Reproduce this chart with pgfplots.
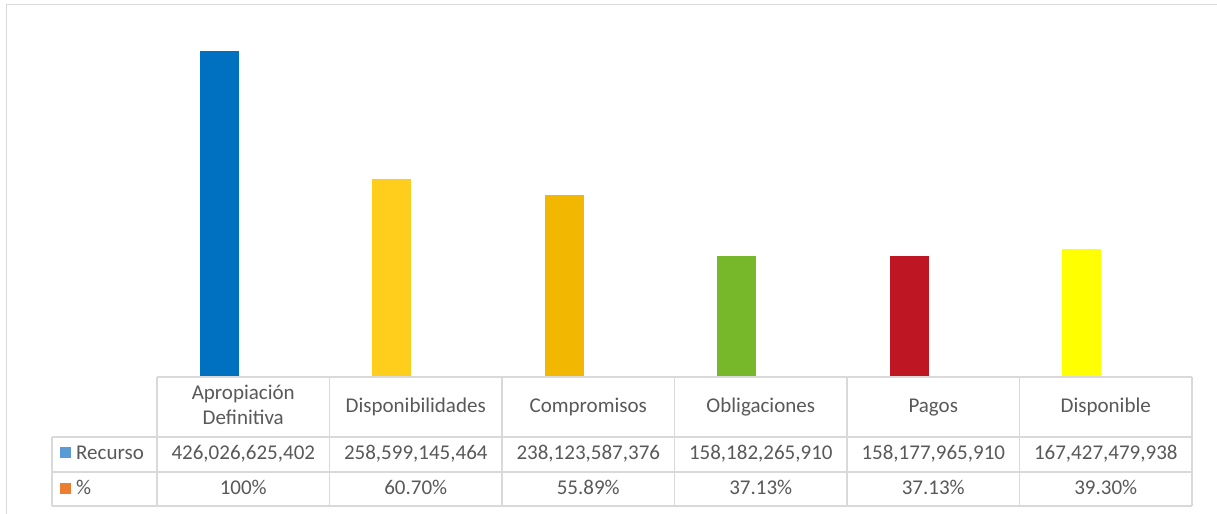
\documentclass[border=0pt]{standalone}
\usepackage{pgfplots}
\pgfplotsset{compat=1.18}
\usepackage{fontspec}
\setmainfont{Carlito}
\definecolor{cA}{HTML}{0070C0}
\definecolor{cB}{HTML}{FFCD1C}
\definecolor{cC}{HTML}{F2B700}
\definecolor{cD}{HTML}{76B82A}
\definecolor{cE}{HTML}{BE1622}
\definecolor{cF}{HTML}{FFFF00}
\definecolor{gridc}{HTML}{D9D9D9}
\definecolor{tc}{HTML}{595959}
\definecolor{legA}{HTML}{5B9BD5}
\definecolor{legB}{HTML}{ED7D31}
\begin{document}
\begin{tikzpicture}[x=1bp,y=1bp]
\path[use as bounding box] (0,0) rectangle (1217,514);
\fill[white] (0,0) rectangle (1217,514);
\draw[gridc, line width=1.5bp] (6.5,-5) -- (6.5,509.5) -- (1225,509.5);
\begin{axis}[at={(157bp,137bp)}, anchor=south west, scale only axis,
  width=1035bp, height=344bp, xmin=0, xmax=6, ymin=0, ymax=450,
  hide axis, clip=false,
  mybar/.style={ybar, bar width=39bp, bar shift=-24bp, fill=#1, draw=none}]
\addplot[mybar=cA] coordinates {(0.5,426.026625402)};
\addplot[mybar=cB] coordinates {(1.5,258.599145464)};
\addplot[mybar=cC] coordinates {(2.5,238.123587376)};
\addplot[mybar=cD] coordinates {(3.5,158.182265910)};
\addplot[mybar=cE] coordinates {(4.5,158.177965910)};
\addplot[mybar=cF] coordinates {(5.5,167.427479938)};
\end{axis}
% table grid
\begin{scope}[gridc, line width=1.3bp]
\draw (157,137) -- (1192,137);
\draw (52,77) -- (1192,77);
\draw (52,42) -- (1192,42);
\draw (52,8) -- (1192,8);
\draw (52,77) -- (52,8);
\foreach \x in {157,329.5,502,674.5,847,1019.5,1192} {\draw (\x,137) -- (\x,8);}
\end{scope}
\begin{scope}[every node/.style={text=tc, font=\fontsize{21bp}{25bp}\selectfont, inner sep=0pt}]
\node[anchor=base] at (243.25,114) {Apropiación};
\node[anchor=base] at (243.25,89) {Definitiva};
\node[anchor=base] at (415.75,101) {Disponibilidades};
\node[anchor=base] at (588.25,101) {Compromisos};
\node[anchor=base] at (760.75,101) {Obligaciones};
\node[anchor=base] at (933.25,101) {Pagos};
\node[anchor=base] at (1105.75,101) {Disponible};
\node[anchor=base] at (243.25,54) {426,026,625,402};
\node[anchor=base] at (415.75,54) {258,599,145,464};
\node[anchor=base] at (588.25,54) {238,123,587,376};
\node[anchor=base] at (760.75,54) {158,182,265,910};
\node[anchor=base] at (933.25,54) {158,177,965,910};
\node[anchor=base] at (1105.75,54) {167,427,479,938};
\node[anchor=base] at (243.25,19) {100\%};
\node[anchor=base] at (415.75,19) {60.70\%};
\node[anchor=base] at (588.25,19) {55.89\%};
\node[anchor=base] at (760.75,19) {37.13\%};
\node[anchor=base] at (933.25,19) {37.13\%};
\node[anchor=base] at (1105.75,19) {39.30\%};
\node[anchor=base west] at (76,54) {Recurso};
\node[anchor=base west] at (76,19) {\%};
\end{scope}
\fill[legA] (60,56) rectangle (71,67);
\fill[legB] (60,20) rectangle (71,31);
\end{tikzpicture}
\end{document}
